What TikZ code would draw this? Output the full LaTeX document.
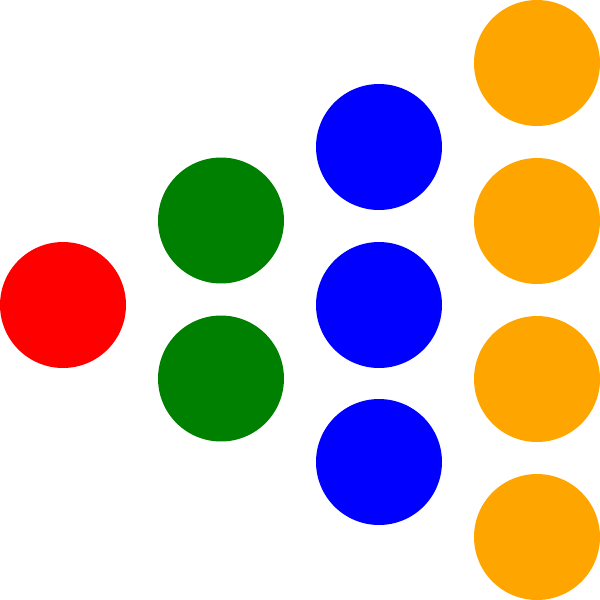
\documentclass[tikz,border=0pt]{standalone}
\usepackage{tikz}
\usetikzlibrary{positioning}
\usepackage{xcolor}
\definecolor{dotred}{HTML}{FF0000}
\definecolor{dotgreen}{HTML}{008000}
\definecolor{dotblue}{HTML}{0000FF}
\definecolor{dotorange}{HTML}{FFA500}

\begin{document}
\begin{tikzpicture}[x=0.02cm, y=-0.02cm,
		dot/.style={circle, inner sep = 0pt, minimum size = 2.52cm}]
		\useasboundingbox (0,0) rectangle (600,600);
		% input column
		\draw (63, 305) node[dot, fill=dotred] (in1) {};
		% second column
		\draw (221, 220.5) node[dot, fill=dotgreen] (g1) {}
		(221, 378.5) node[dot, fill=dotgreen] (g2) {};
		% third column
		\draw (379, 147) node[dot, fill=dotblue] (b1) {}
		(379, 305) node[dot, fill=dotblue] (b2) {}
		(379, 462) node[dot, fill=dotblue] (b3) {};
		% last column
		\draw (537, 63) node[dot, fill=dotorange] (o1) {}
		(537, 221) node[dot, fill=dotorange] (o2) {}
		(537, 379) node[dot, fill=dotorange] (o3) {}
		(537, 537) node[dot, fill=dotorange] (o4) {};
	\end{tikzpicture}
\end{document}
